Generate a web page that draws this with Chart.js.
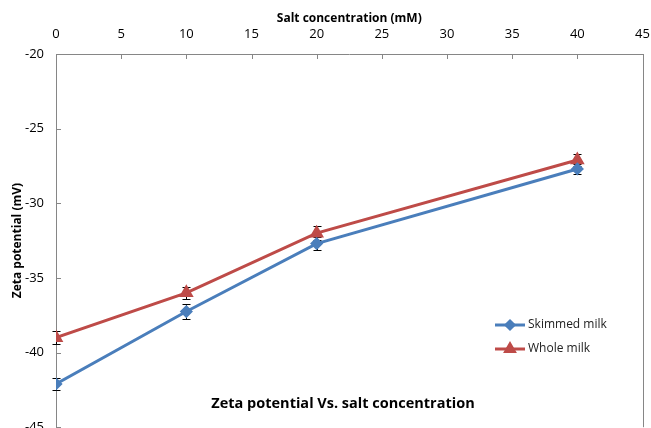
<!DOCTYPE html>
<html>
<head>
<meta charset="utf-8">
<script src="https://cdn.jsdelivr.net/npm/chart.js@4"></script>
<style>
  html, body { margin: 0; padding: 0; background: #fff; overflow: hidden; }
  #wrap { position: relative; width: 651px; height: 442px; }
</style>
</head>
<body>
<div id="wrap"><canvas id="zeta"></canvas></div>
<script>
// salt concentration (mM)
const saltConc = [0, 10, 20, 40];
const skimmed = [-42.1, -37.25, -32.7, -27.7];
const skimmedErr = [0.4, 0.5, 0.45, 0.35];
const whole = [-39.0, -36.0, -32.0, -27.1];
const wholeErr = [0.45, 0.4, 0.45, 0.4];
const xTicks = [0, 5, 10, 15, 20, 25, 30, 35, 40, 45];
const yTicks = [-20, -25, -30, -35, -40, -45];

const blue = "#4A7EBB";
const red = "#BE4B48";
const axisGrey = "#868686";
const font = "'Open Sans', 'DejaVu Sans', sans-serif";

function toPoints(vals) {
  return saltConc.map((c, i) => ({ x: c, y: vals[i] }));
}

// inward tick marks + error bars under the lines; border, legend and title on top
const extras = {
  id: "extras",
  beforeDatasetsDraw(chart) {
    const ctx = chart.ctx;
    const xs = chart.scales.x;
    const ys = chart.scales.y;
    const area = chart.chartArea;
    ctx.save();

    ctx.strokeStyle = axisGrey;
    ctx.lineWidth = 1;
    ctx.beginPath();
    xTicks.forEach((t) => {
      const px = Math.round(xs.getPixelForValue(t)) + 0.5;
      ctx.moveTo(px, area.top); ctx.lineTo(px, area.top + 5);
    });
    yTicks.forEach((t) => {
      const py = Math.round(ys.getPixelForValue(t)) + 0.5;
      ctx.moveTo(area.left, py); ctx.lineTo(area.left + 5, py);
    });
    ctx.stroke();

    ctx.strokeStyle = "#000";
    const bars = [[skimmed, skimmedErr], [whole, wholeErr]];
    bars.forEach(([vals, errs]) => {
      vals.forEach((v, i) => {
        const px = Math.round(xs.getPixelForValue(saltConc[i])) + 0.5;
        const top = Math.round(ys.getPixelForValue(v + errs[i])) + 0.5;
        const bot = Math.round(ys.getPixelForValue(v - errs[i])) + 0.5;
        ctx.beginPath();
        ctx.moveTo(px, top); ctx.lineTo(px, bot);
        ctx.moveTo(px - 4, top); ctx.lineTo(px + 4, top);
        ctx.moveTo(px - 4, bot); ctx.lineTo(px + 4, bot);
        ctx.stroke();
      });
    });
    ctx.restore();
  },
  afterDatasetsDraw(chart) {
    const ctx = chart.ctx;
    const area = chart.chartArea;
    ctx.save();

    // plot border (right side)
    ctx.strokeStyle = axisGrey;
    ctx.lineWidth = 1;
    ctx.beginPath();
    ctx.moveTo(Math.round(area.right) + 0.5, area.top);
    ctx.lineTo(Math.round(area.right) + 0.5, area.bottom);
    ctx.stroke();

    // legend
    const items = [
      { label: "Skimmed milk", color: blue, style: "rectRot", r: 4 },
      { label: "Whole milk", color: red, style: "triangle", r: 5 }
    ];
    ctx.font = "12px " + font;
    ctx.textBaseline = "middle";
    items.forEach((it, i) => {
      const y = 325 + i * 24;
      ctx.strokeStyle = it.color;
      ctx.lineWidth = 3;
      ctx.beginPath();
      ctx.moveTo(495, y); ctx.lineTo(525, y);
      ctx.stroke();
      ctx.fillStyle = it.color;
      Chart.helpers.drawPoint(ctx, { pointStyle: it.style, radius: it.r, borderWidth: 1 }, 510, y);
      ctx.fill();
      ctx.fillStyle = "#222";
      ctx.textAlign = "left";
      ctx.fillText(it.label, 528, y);
    });

    // title inside plot
    ctx.font = "bold 14.5px " + font;
    ctx.fillStyle = "#000";
    ctx.textAlign = "center";
    ctx.fillText("Zeta potential Vs. salt concentration", 343, 404);
    ctx.restore();
  }
};

new Chart(document.getElementById("zeta"), {
  type: "line",
  data: {
    datasets: [
      {
        label: "Skimmed milk",
        data: toPoints(skimmed),
        borderColor: blue,
        backgroundColor: blue,
        borderWidth: 3,
        pointStyle: "rectRot",
        pointRadius: 4.5,
        tension: 0
      },
      {
        label: "Whole milk",
        data: toPoints(whole),
        borderColor: red,
        backgroundColor: red,
        borderWidth: 3,
        pointStyle: "triangle",
        pointRadius: 5.5,
        tension: 0
      }
    ]
  },
  options: {
    responsive: true,
    maintainAspectRatio: false,
    animation: false,
    layout: { padding: { top: 11, right: 0, bottom: 0, left: 0 } },
    plugins: {
      legend: { display: false },
      tooltip: { enabled: false }
    },
    scales: {
      x: {
        type: "linear",
        position: "top",
        min: 0,
        max: 45,
        afterBuildTicks: (s) => { s.ticks = xTicks.map((v) => ({ value: v })); },
        grid: { display: true, drawOnChartArea: false, tickColor: "rgba(0,0,0,0)", tickLength: 11 },
        border: { color: axisGrey },
        ticks: { color: "#000", font: { family: font, size: 13 }, padding: 1, maxRotation: 0 },
        title: {
          display: true,
          text: "Salt concentration (mM)",
          color: "#000",
          font: { family: font, size: 12, weight: "bold" },
          padding: { top: 0, bottom: 0 }
        }
      },
      y: {
        min: -45,
        max: -20,
        afterBuildTicks: (s) => { s.ticks = yTicks.map((v) => ({ value: v })); },
        afterFit: (s) => { s.width = 56; },
        grid: { display: true, drawOnChartArea: false, tickColor: "rgba(0,0,0,0)", tickLength: 5 },
        border: { color: axisGrey },
        ticks: { color: "#000", font: { family: font, size: 13 }, padding: 7 },
        title: {
          display: true,
          text: "Zeta potential (mV)",
          color: "#000",
          font: { family: font, size: 12, weight: "bold" },
          padding: { top: 10, bottom: 0 }
        }
      }
    }
  },
  plugins: [extras]
});
</script>
</body>
</html>
